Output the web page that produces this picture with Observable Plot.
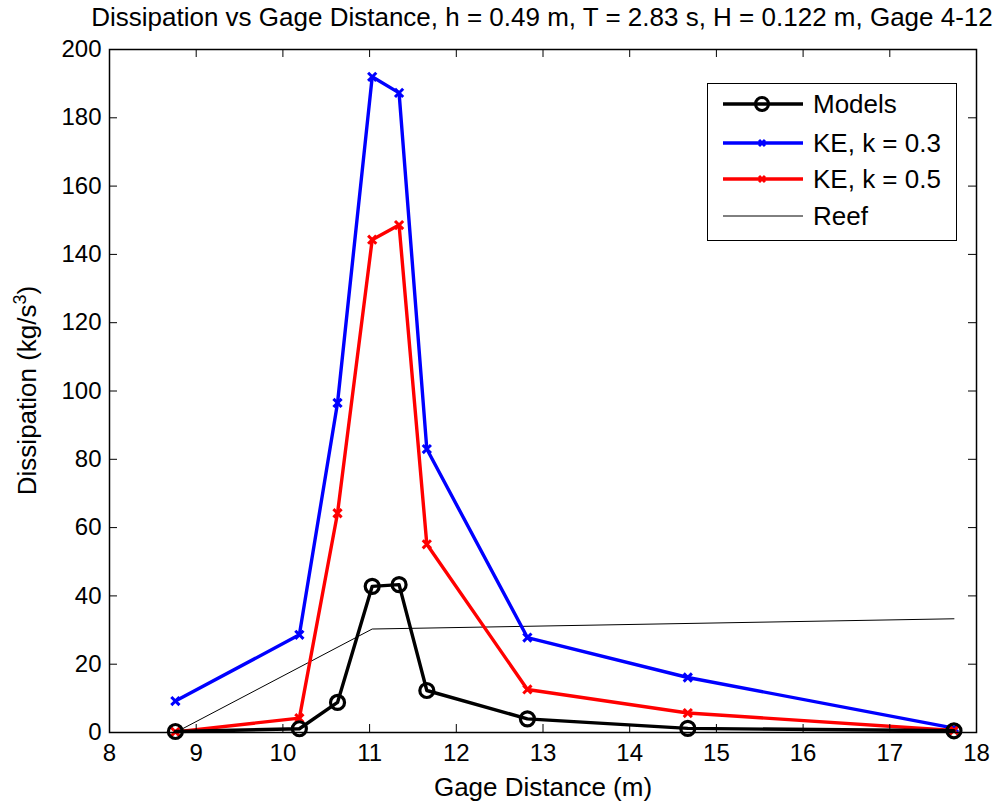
<!DOCTYPE html>
<html><head><meta charset="utf-8">
<script src="https://cdn.jsdelivr.net/npm/d3@7"></script>
<script src="https://cdn.jsdelivr.net/npm/@observablehq/plot@0.6"></script>
<style>
html,body{margin:0;padding:0;background:#fff;}
#wrap{position:relative;width:1000px;height:804px;font-family:"Liberation Sans",Arial,sans-serif;}
#title{position:absolute;left:0;width:1000px;top:0px;text-align:center;font-size:26px;line-height:34px;padding-left:84px;box-sizing:border-box;white-space:nowrap;}
#legend{position:absolute;left:707px;top:83px;width:250px;height:158px;border:1.5px solid #000;background:#fff;box-sizing:border-box;}
#legend .row{position:absolute;left:0;height:30px;display:flex;align-items:center;}
#legend .row span{font-size:26px;margin-left:9px;}
</style></head>
<body><div id="wrap"><div id="title"></div><div id="legend"></div></div>
<script>
const gage = [8.76, 10.19, 10.63, 11.03, 11.34, 11.66, 12.82, 14.67, 17.74];
const models = [0.3, 1.1, 8.8, 42.8, 43.3, 12.3, 4.0, 1.2, 0.5];
const ke03 = [9.2, 28.6, 96.5, 192, 187.3, 83, 27.8, 16.1, 1.3];
const ke05 = [0.2, 4.2, 64.2, 144.3, 148.6, 55.1, 12.6, 5.7, 0.6];
const reefX = [8.76, 11.03, 17.74];
const reefY = [0, 30.3, 33.3];
const xTicks = [8, 9, 10, 11, 12, 13, 14, 15, 16, 17, 18];
const yTicks = [0, 20, 40, 60, 80, 100, 120, 140, 160, 180, 200];
const titleText = "Dissipation vs Gage Distance, h = 0.49 m, T = 2.83 s, H = 0.122 m, Gage 4-12";
const xLabel = "Gage Distance (m)";

const W = 1000, H = 804, mL = 109, mR = 24, mT = 49, mB = 72;
const pw = W - mL - mR, ph = H - mT - mB, tk = 8;

const series = (ys) => gage.map((g, i) => ({x: g, y: ys[i]}));
const mD = series(models), bD = series(ke03), rD = series(ke05);
const reef = reefX.map((g, i) => ({x: g, y: reefY[i]}));

const chart = Plot.plot({
  width: W, height: H,
  marginLeft: mL, marginRight: mR, marginTop: mT, marginBottom: mB,
  style: {fontFamily: '"Liberation Sans", Arial, sans-serif', fontSize: "24px", color: "#000", background: "#fff"},
  x: {domain: [8, 18]},
  y: {domain: [0, 200]},
  marks: [
    Plot.line(reef, {x: "x", y: "y", stroke: "#000", strokeWidth: 1}),
    Plot.line(bD, {x: "x", y: "y", stroke: "#0000ff", strokeWidth: 3.4}),
    Plot.dot(bD, {x: "x", y: "y", symbol: "times", r: 3.8, stroke: "#0000ff", strokeWidth: 3}),
    Plot.line(rD, {x: "x", y: "y", stroke: "#ff0000", strokeWidth: 3.4}),
    Plot.dot(rD, {x: "x", y: "y", symbol: "times", r: 3.8, stroke: "#ff0000", strokeWidth: 3}),
    Plot.line(mD, {x: "x", y: "y", stroke: "#000", strokeWidth: 3.4}),
    Plot.dot(mD, {x: "x", y: "y", r: 7, stroke: "#000", strokeWidth: 3.2, fill: "none"}),
    Plot.tickX(xTicks.slice(1, -1), {x: d => d, insetTop: ph - tk, stroke: "#000", strokeWidth: 1}),
    Plot.tickX(xTicks.slice(1, -1), {x: d => d, insetBottom: ph - tk, stroke: "#000", strokeWidth: 1}),
    Plot.tickY(yTicks.slice(1, -1), {y: d => d, insetRight: pw - tk, stroke: "#000", strokeWidth: 1}),
    Plot.tickY(yTicks.slice(1, -1), {y: d => d, insetLeft: pw - tk, stroke: "#000", strokeWidth: 1}),
    Plot.frame({stroke: "#000", strokeWidth: 1.5}),
    Plot.axisX(xTicks, {tickSize: 0, tickPadding: 11, fontSize: 24, label: null}),
    Plot.axisY(yTicks, {tickSize: 0, tickPadding: 8, fontSize: 24, label: null}),
    Plot.text([xLabel], {frameAnchor: "bottom", dy: 63, fontSize: 26, text: d => d})
  ]
});
chart.style.position = "absolute";
chart.style.left = "0px";
chart.style.top = "0px";
const wrap = document.getElementById("wrap");
wrap.insertBefore(chart, wrap.firstChild);

// y label with superscript
const ns = "http://www.w3.org/2000/svg";
const yl = document.createElementNS(ns, "text");
yl.setAttribute("transform", `translate(36,${mT + ph / 2}) rotate(-90)`);
yl.setAttribute("text-anchor", "middle");
yl.setAttribute("font-size", "26");
yl.setAttribute("font-family", '"Liberation Sans", Arial, sans-serif');
yl.appendChild(document.createTextNode("Dissipation (kg/s"));
const sup = document.createElementNS(ns, "tspan");
sup.setAttribute("dy", "-10");
sup.setAttribute("font-size", "18");
sup.textContent = "3";
yl.appendChild(sup);
const cl = document.createElementNS(ns, "tspan");
cl.setAttribute("dy", "10");
cl.textContent = ")";
yl.appendChild(cl);
chart.appendChild(yl);

document.getElementById("title").textContent = titleText;

// legend
const legendItems = [
  {label: "Models", color: "#000", w: 3.4, marker: "circle"},
  {label: "KE, k = 0.3", color: "#0000ff", w: 3.4, marker: "times"},
  {label: "KE, k = 0.5", color: "#ff0000", w: 3.4, marker: "times"},
  {label: "Reef", color: "#000", w: 1, marker: null}
];
const rowTops = [5, 44, 80, 117];
const leg = document.getElementById("legend");
legendItems.forEach((it, i) => {
  const row = document.createElement("div");
  row.className = "row";
  row.style.top = (rowTops[i]) + "px";
  row.style.left = "14px";
  let m = "";
  if (it.marker === "circle") m = `<circle cx="40" cy="15" r="6.5" fill="none" stroke="${it.color}" stroke-width="3"/>`;
  if (it.marker === "times") m = `<path d="M37,12L43,18M43,12L37,18" stroke="${it.color}" stroke-width="3"/>`;
  row.innerHTML = `<svg width="82" height="30"><line x1="1" y1="15" x2="81" y2="15" stroke="${it.color}" stroke-width="${it.w}"/>${m}</svg><span>${it.label}</span>`;
  leg.appendChild(row);
});
</script></body></html>
